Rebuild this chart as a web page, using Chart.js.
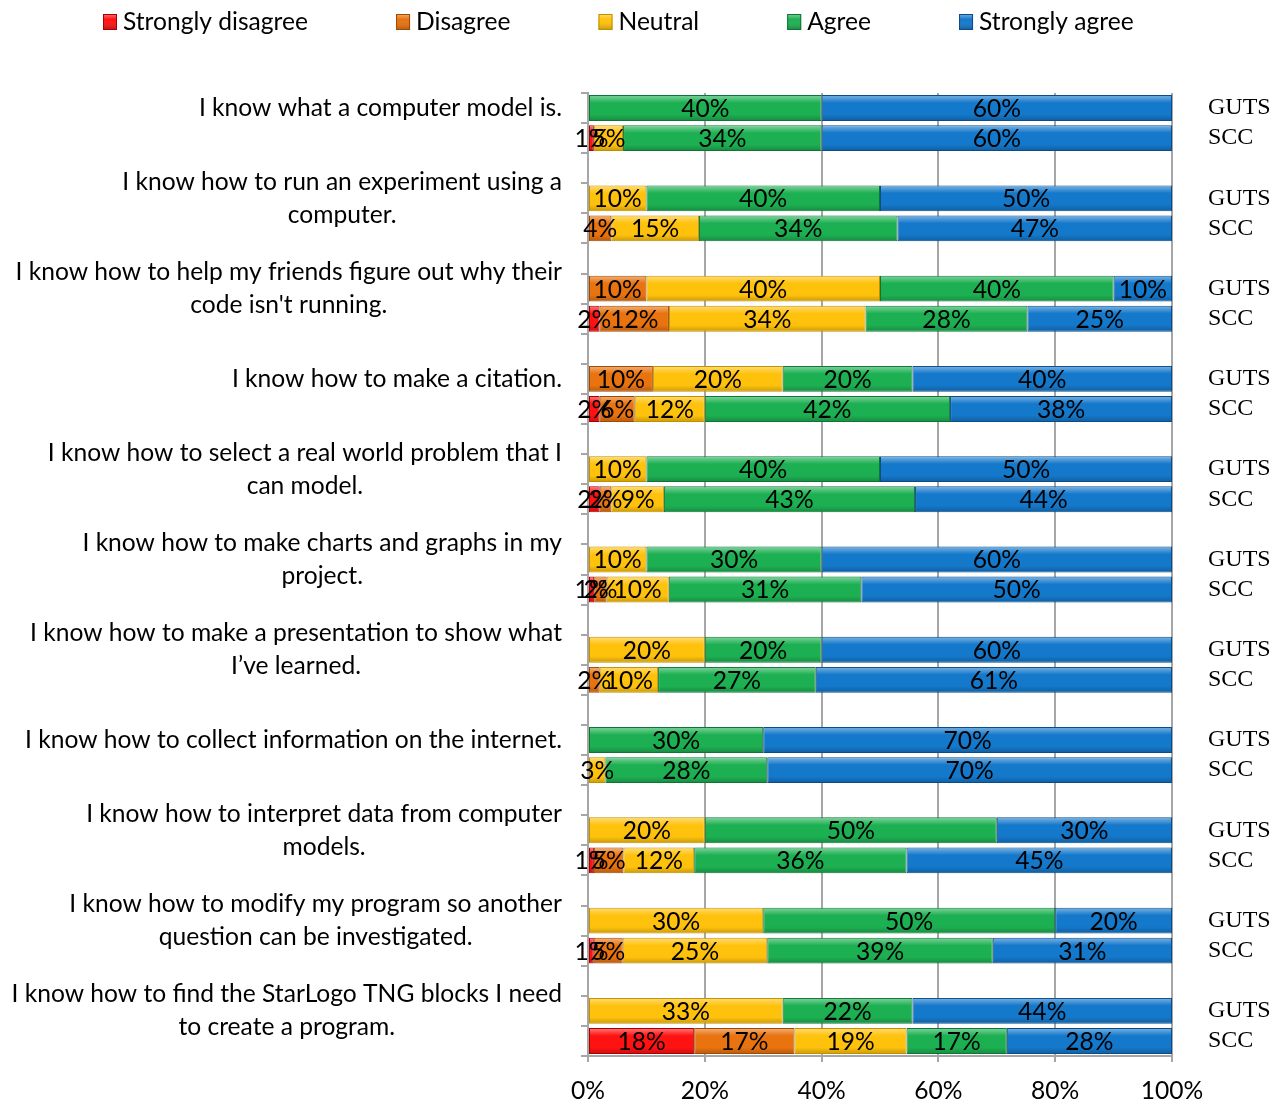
<!DOCTYPE html>
<html>
<head>
<meta charset="utf-8">
<script src="https://cdn.jsdelivr.net/npm/chart.js@4.4.1/dist/chart.umd.min.js"></script>
<style>
  html, body { margin: 0; padding: 0; background: #fff; }
  #wrap { width: 1283px; height: 1099px; }
</style>
</head>
<body>
<div id="wrap"><canvas id="chart"></canvas></div>
<script>
// questions (left labels, already split in lines)
const questions = [
    ['I know what a computer model is.'],
    ['I know how to run an experiment using a', 'computer.'],
    ['I know how to help my friends figure out why their', "code isn't running."],
    ['I know how to make a citation.'],
    ['I know how to select a real world problem that I', 'can model.'],
    ['I know how to make charts and graphs in my', 'project.'],
    ['I know how to make a presentation to show what', 'I\u2019ve learned.'],
    ['I know how to collect information on the internet.'],
    ['I know how to interpret data from computer', 'models.'],
    ['I know how to modify my program so another', 'question can be investigated.'],
    ['I know how to find the StarLogo TNG blocks I need', 'to create a program.']
];
const groups = ['GUTS', 'SCC'];
const responses = ['Strongly disagree', 'Disagree', 'Neutral', 'Agree', 'Strongly agree'];
const xTicks = [0, 20, 40, 60, 80, 100];

// percentages, ordered Q1 GUTS, Q1 SCC, Q2 GUTS, Q2 SCC ...
const stronglyDisagree = [0, 1, 0, 0, 0, 2, 0, 2, 0, 2, 0, 1, 0, 0, 0, 0, 0, 1, 0, 1, 0, 18];
const disagree         = [0, 0, 0, 4, 10, 12, 10, 6, 0, 2, 0, 2, 0, 2, 0, 0, 0, 5, 0, 5, 0, 17];
const neutral          = [0, 5, 10, 15, 40, 34, 20, 12, 10, 9, 10, 10, 20, 10, 0, 3, 20, 12, 30, 25, 33, 19];
const agree            = [40, 34, 40, 34, 40, 28, 20, 42, 40, 43, 30, 31, 20, 27, 30, 28, 50, 36, 50, 39, 22, 17];
const stronglyAgree    = [60, 60, 50, 47, 10, 25, 40, 38, 50, 44, 60, 50, 60, 61, 70, 70, 30, 45, 20, 31, 44, 28];

const fills   = ['#FF1212', '#E8730F', '#FFC20C', '#1DB052', '#1478CB'];
const borders = ['#A80000', '#9C4A05', '#C09000', '#0F7535', '#0B4C88'];

const series = [stronglyDisagree, disagree, neutral, agree, stronglyAgree];

// slots: GUTS, SCC, blank for every question
const slotLabels = [];
const slotBar = [];
questions.forEach((q, i) => {
    slotLabels.push(groups[0], groups[1]);
    slotBar.push(i * 2, i * 2 + 1);
    if (i < questions.length - 1) { slotLabels.push(''); slotBar.push(null); }
});

// 100% stacked: each bar is scaled to its own total
const totals = stronglyDisagree.map((v, i) => series.reduce((s, arr) => s + arr[i], 0));

const datasets = series.map((arr, k) => ({
    label: responses[k],
    data: slotBar.map(b => b === null ? null : arr[b] / totals[b] * 100),
    rawValues: slotBar.map(b => b === null ? null : arr[b]),
    backgroundColor: fills[k],
    borderColor: borders[k],
    borderWidth: 1,
    borderSkipped: false,
    barPercentage: 0.86,
    categoryPercentage: 1,
    yAxisID: 'y'
}));

const FONT = 'Lato, "Open Sans", sans-serif';
const FS = 24.6;

// bevel look + value labels on the bars
const barDecor = {
    id: 'barDecor',
    afterDatasetsDraw(chart) {
        const ctx = chart.ctx;
        chart.data.datasets.forEach((ds, di) => {
            const meta = chart.getDatasetMeta(di);
            meta.data.forEach((bar, i) => {
                const raw = ds.rawValues[i];
                if (raw === null || raw === 0) return;
                const left = Math.min(bar.x, bar.base), right = Math.max(bar.x, bar.base);
                const top = bar.y - bar.height / 2, bottom = bar.y + bar.height / 2;
                const g = ctx.createLinearGradient(0, top, 0, bottom);
                g.addColorStop(0, 'rgba(255,255,255,0.45)');
                g.addColorStop(0.22, 'rgba(255,255,255,0.12)');
                g.addColorStop(0.3, 'rgba(255,255,255,0)');
                g.addColorStop(0.75, 'rgba(0,0,0,0)');
                g.addColorStop(1, 'rgba(0,0,0,0.22)');
                ctx.save();
                ctx.fillStyle = g;
                ctx.fillRect(left + 1, top + 1, right - left - 2, bottom - top - 2);
                ctx.restore();
            });
        });
        ctx.save();
        ctx.font = FS + 'px ' + FONT;
        ctx.fillStyle = '#000';
        ctx.textAlign = 'center';
        ctx.textBaseline = 'middle';
        chart.data.datasets.forEach((ds, di) => {
            const meta = chart.getDatasetMeta(di);
            meta.data.forEach((bar, i) => {
                const raw = ds.rawValues[i];
                if (raw === null || raw === 0) return;
                ctx.fillText(raw + '%', (bar.x + bar.base) / 2, bar.y + 1);
            });
        });
        ctx.restore();
    }
};

// question texts on the left, block right-aligned, lines centred
const questionLabels = {
    id: 'questionLabels',
    afterDraw(chart) {
        const ctx = chart.ctx;
        const yScale = chart.scales.y;
        const rightEdge = chart.chartArea.left - 26;
        ctx.save();
        ctx.font = FS + 'px ' + FONT;
        ctx.fillStyle = '#000';
        ctx.textAlign = 'center';
        ctx.textBaseline = 'middle';
        questions.forEach((lines, i) => {
            const y = yScale.getPixelForValue(i * 3);
            const w = Math.max(...lines.map(l => ctx.measureText(l).width));
            const cx = rightEdge - w / 2;
            const lh = 33;
            lines.forEach((l, k) => {
                ctx.fillText(l, cx, y - (lines.length - 1) * lh / 2 + k * lh);
            });
        });
        ctx.restore();
    }
};

// legend row at the top
const topLegend = {
    id: 'topLegend',
    afterDraw(chart) {
        const ctx = chart.ctx;
        ctx.save();
        ctx.font = FS + 'px ' + FONT;
        ctx.textBaseline = 'middle';
        ctx.textAlign = 'left';
        let x = 103;
        const y = 22;
        responses.forEach((name, k) => {
            ctx.fillStyle = fills[k];
            ctx.fillRect(x, y - 8, 14, 16);
            const g = ctx.createLinearGradient(0, y - 8, 0, y + 8);
            g.addColorStop(0, 'rgba(255,255,255,0.4)');
            g.addColorStop(0.35, 'rgba(255,255,255,0)');
            g.addColorStop(1, 'rgba(0,0,0,0.25)');
            ctx.fillStyle = g;
            ctx.fillRect(x, y - 8, 14, 16);
            ctx.strokeStyle = borders[k];
            ctx.lineWidth = 1;
            ctx.strokeRect(x + 0.5, y - 7.5, 13, 15);
            ctx.fillStyle = '#000';
            ctx.fillText(name, x + 20, y);
            x += 20 + ctx.measureText(name).width + 88;
        });
        ctx.restore();
    }
};

const noPad = s => { s.paddingTop = 0; s.paddingBottom = 0; };

new Chart(document.getElementById('chart'), {
    type: 'bar',
    data: { labels: slotLabels, datasets: datasets },
    plugins: [barDecor, questionLabels, topLegend],
    options: {
        indexAxis: 'y',
        responsive: true,
        maintainAspectRatio: false,
        animation: false,
        layout: { padding: { top: 93, left: 0, right: 0, bottom: 0 } },
        plugins: {
            legend: { display: false },
            tooltip: { enabled: false }
        },
        scales: {
            x: {
                stacked: true,
                min: 0,
                max: 100,
                afterBuildTicks: s => { s.ticks = xTicks.map(v => ({ value: v })); },
                ticks: {
                    callback: v => v + '%',
                    font: { size: FS, family: FONT },
                    color: '#000',
                    padding: 14,
                    maxRotation: 0
                },
                grid: { color: '#A6A6A6', lineWidth: 2, tickLength: 6 },
                border: { color: '#A6A6A6', width: 2 },
                afterFit: s => { s.height = 43; s.paddingLeft = 0; s.paddingRight = 0; }
            },
            y: {
                stacked: true,
                position: 'left',
                ticks: { callback: () => '' },
                grid: { drawOnChartArea: false, color: '#A6A6A6', lineWidth: 2, tickLength: 7, offset: true },
                border: { color: '#A6A6A6', width: 2 },
                afterFit: s => { s.width = 588; noPad(s); }
            },
            y2: {
                type: 'category',
                position: 'right',
                labels: slotLabels,
                offset: true,
                ticks: {
                    font: { size: 24, family: '"Liberation Serif", "Times New Roman", serif' },
                    color: '#000',
                    padding: 36,
                    autoSkip: false
                },
                grid: { display: false, drawTicks: false },
                border: { display: false },
                afterFit: s => { s.width = 111; noPad(s); }
            }
        }
    }
});
</script>
</body>
</html>
